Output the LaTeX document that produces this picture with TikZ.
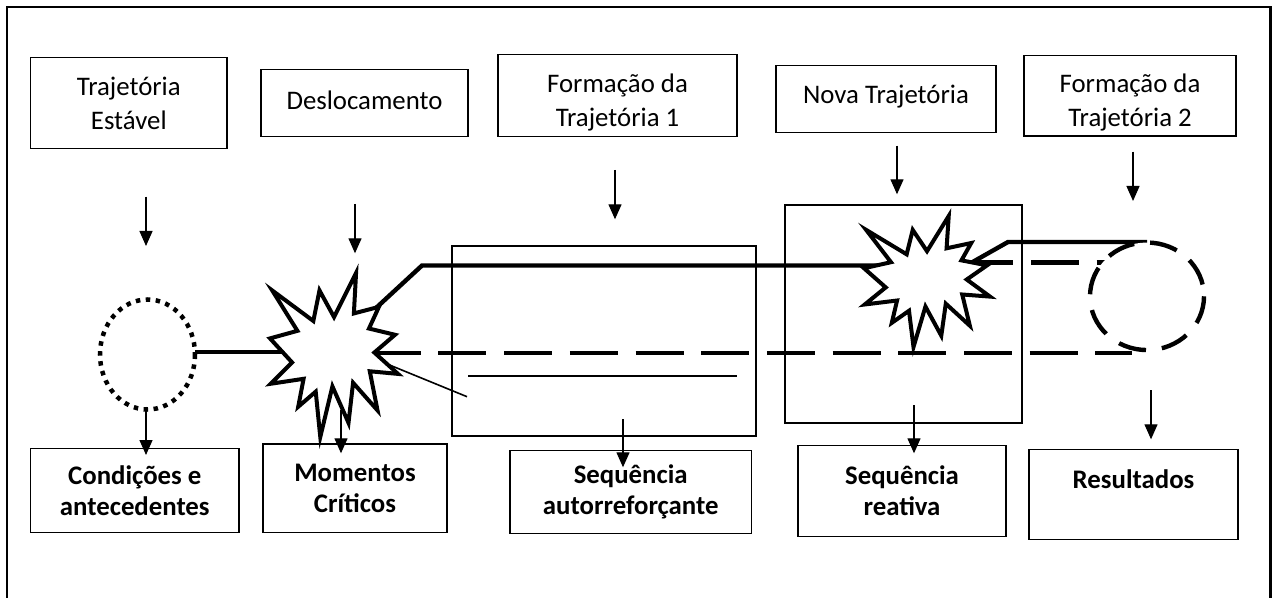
\documentclass[tikz,border=0pt]{standalone}
\usepackage{fontspec}
\setmainfont{Carlito}
\usetikzlibrary{arrows.meta,shapes.geometric}

\tikzset{
  box/.style={draw,line width=0.6pt,inner sep=0pt},
  toptext/.style={align=center,inner sep=0pt,font=\fontsize{13.4pt}{17pt}\selectfont},
  boldbox/.style={box,align=center,font=\fontsize{13.4pt}{15.5pt}\selectfont\bfseries},
  arr/.style={line width=0.65pt,-{Triangle[width=6.5pt,length=7.5pt]}},
  trail/.style={line width=2.2pt},
  trailgap/.style={trail,dash pattern=on 24pt off 8.85pt},
  thinline/.style={line width=0.8pt},
  rim/.style={line width=1pt},
  outer/.style={line width=1.1pt},
  seal/.style={fill=white,draw,line width=2pt,line join=miter},
  explosion/.pic={
    \filldraw[seal] (108,58) -- (145.22,0) -- (141.55,53.25) -- (183.8,44.57)
      -- (167.02,73.15) -- (210.97,81.37) -- (176.07,104.75) -- (216,132.9)
      -- (168.37,129.42) -- (181.45,180.95) -- (140.2,144.57) -- (132.47,197.37)
      -- (105.32,149.35) -- (84.85,216) -- (77.15,156.27) -- (47.62,176.17)
      -- (56.67,139.37) -- (1.35,145.87) -- (37.22,117.75) -- (0,86.15)
      -- (46.27,76.17) -- (3.7,22.95) -- (73.12,63.2) -- (83.52,22.95) -- cycle;
  }
}

\begin{document}
\begin{tikzpicture}[x=0.5pt,y=-0.5pt]
    \useasboundingbox (0,0) rectangle (1272,598);
    \draw[outer] (7.3,610) |- (1270.5,7.3) -- (1270.5,610);

    % trajectories
    \node[ellipse,minimum width=47.5pt,minimum height=55pt,inner sep=0pt] (e1) at (147.5,354.5) {};
    \node[ellipse,minimum width=57pt,minimum height=53.75pt,inner sep=0pt] (e2) at (1147,296.3) {};
    \coordinate (j1) at (300,352);
    \coordinate (k1) at (350,332);
    \coordinate (k2) at (422,265.5);
    \coordinate (k3) at (920,265.5);
    \coordinate (d1) at (307,353);
    \coordinate (d2) at (1132,353);
    \coordinate (u1) at (899.6,262.5);
    \coordinate (v1) at (955,272);
    \coordinate (v2) at (1008,242);
    \coordinate (t1) at (370,357);
    \coordinate (t2) at (467,396.7);
    \coordinate (h1) at (468,376);
    \coordinate (h2) at (737,376);
    \draw[trail] (e1.east |- j1) -- (j1);
    \draw[trail] (k1) -- (k2) -- (k3);
    \draw[trailgap] (d1) -- (d2);
    \draw[trailgap] (u1) -- (u1 -| e2);
    \draw[trail] (v1) -- (v2) -- (v2 -| e2);
    \draw[thinline] (t1) -- (t2);
    \draw[thinline] (h1) -- (h2);

    \pic[xscale=128/216,yscale=164/216] at (270,273) {explosion};
    \pic[xscale=126/216,yscale=131/216] at (864,216) {explosion};

    \draw[line width=2.25pt,dash pattern=on 2.25pt off 2.75pt,fill=white] (e1.center) ellipse [x radius=47.5,y radius=55];
    \draw[line width=2.2pt,dash pattern=on 14pt off 8pt,fill=white] (e2.center) ellipse [x radius=57,y radius=53.75];

    \draw[rim] (451.5,246) rectangle (755.5,436);
    \draw[rim] (785,205) rectangle (1022,423);

    % top row
    \node[box,minimum width=98.2pt,minimum height=45.7pt] (te) at (128.8,103) {};
    \node[box,minimum width=103.5pt,minimum height=33.3pt] (de) at (364.5,103) {};
    \node[box,minimum width=119.5pt,minimum height=41.2pt] (f1) at (617.5,95.5) {};
    \node[box,minimum width=110pt,minimum height=33.5pt] (nt) at (886,99.2) {};
    \node[box,minimum width=106pt,minimum height=40.2pt] (f2) at (1130,95.9) {};
    \node[toptext] (te text) at (128.8,103) {Trajetória\\Estável};
    \node[toptext] (de text) at (364.5,100) {Deslocamento};
    \node[toptext] (f1 text) at (617.5,102.5) {Formação da\\Trajetória 1};
    \node[toptext] (nt text) at (886,96.2) {Nova Trajetória};
    \node[toptext] (f2 text) at (1130,102.9) {Formação da\\Trajetória 2};

    % bottom row
    \node[boldbox,minimum width=104.2pt,minimum height=42pt] (ca) at (134.8,490.7) {Condições e\\antecedentes};
    \node[boldbox,minimum width=92pt,minimum height=44.3pt] (mc) at (355,488.3) {Momentos\\Críticos};
    \node[boldbox,minimum width=120.7pt,minimum height=41.3pt] (sa) at (630.7,492) {Sequência\\autorreforçante};
    \node[boldbox,minimum width=104pt,minimum height=45.3pt] (sr) at (902,491) {Sequência\\reativa};
    \node[boldbox,minimum width=104.5pt,minimum height=45pt] (re) at (1133.5,494.3) {Resultados\\\phantom{R}};

    % arrows
    \foreach \n/\x/\a/\b in {a1/146/196.7/246, a2/355/204/253.3, a3/615/170/219.3,
        a4/897/145.7/194.3, a5/1133/151.7/201, b1/146/406.7/455, b2/341/410/453.3,
        b3/623/419.3/467.3, b4/914/405/453.3, b5/1151/390/439.3}{
      \coordinate (\n s) at (\x,\a);
      \coordinate (\n e) at (\x,\b);
      \draw[arr] (\n s) -- (\n e);
    }
  \end{tikzpicture}
\end{document}
